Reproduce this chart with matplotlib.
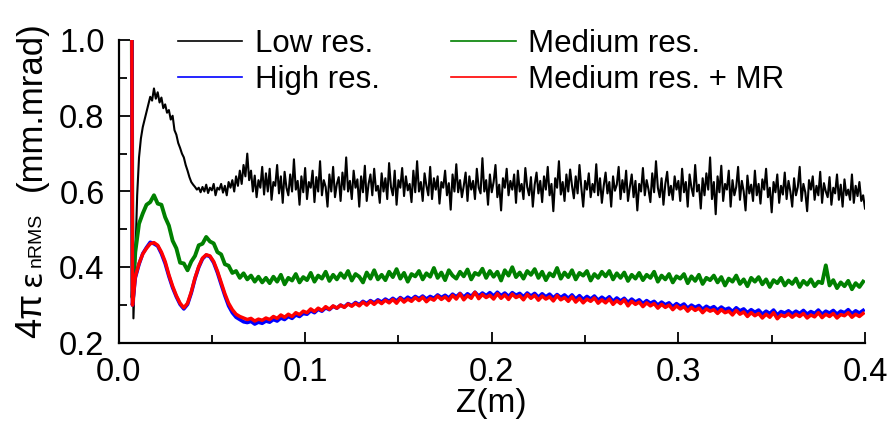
import numpy as np
import matplotlib
matplotlib.use("Agg")
import matplotlib.pyplot as plt
from matplotlib.lines import Line2D
from matplotlib.ticker import MultipleLocator, FormatStrFormatter

# ---------------- data ----------------
# Low resolution: first sample at Z=0.007, then every 0.001 m from Z=0.008
low_z_first = 0.007
low_z_start = 0.008
low_z_step = 0.001
low_res = [
    1.3,
    0.265, 0.42, 0.59, 0.69, 0.74, 0.77, 0.79, 0.81, 0.83, 0.85,
    0.84, 0.872, 0.845, 0.862, 0.835, 0.848, 0.82, 0.83, 0.808, 0.815,
    0.79, 0.80, 0.762, 0.75, 0.728, 0.715, 0.70, 0.69, 0.67, 0.655,
    0.638, 0.625, 0.618, 0.612, 0.605, 0.61, 0.598, 0.612, 0.60, 0.618,
    0.596, 0.61, 0.603, 0.62, 0.59, 0.61, 0.605, 0.62, 0.597, 0.615,
    0.59, 0.625, 0.61, 0.63, 0.60, 0.64, 0.615, 0.655, 0.62, 0.67,
    0.64, 0.70, 0.63,
    0.655, 0.60, 0.642, 0.585, 0.63, 0.61, 0.665, 0.592, 0.648, 0.60,
    0.66, 0.578, 0.625, 0.615, 0.67, 0.595, 0.64, 0.57, 0.652, 0.61,
    0.59, 0.645, 0.60, 0.685, 0.605, 0.628, 0.565, 0.64, 0.598, 0.662,
    0.58, 0.625, 0.61, 0.655, 0.572, 0.638, 0.60, 0.68, 0.59, 0.63,
    0.612, 0.56, 0.645, 0.60, 0.665, 0.585, 0.62, 0.638, 0.575, 0.65,
    0.605, 0.69, 0.60, 0.628, 0.58, 0.655, 0.61, 0.632, 0.56, 0.64,
    0.598, 0.668, 0.575, 0.62, 0.645, 0.59, 0.66, 0.602, 0.615, 0.57,
    0.648, 0.60, 0.635, 0.58, 0.675, 0.612, 0.59, 0.655, 0.565, 0.63,
    0.61, 0.662, 0.588, 0.64, 0.603, 0.62, 0.572, 0.655, 0.598, 0.68,
    0.60, 0.625, 0.575, 0.648, 0.615, 0.59, 0.665, 0.58, 0.635, 0.605,
    0.64, 0.568, 0.625, 0.61, 0.655, 0.59, 0.622, 0.552, 0.645, 0.60,
    0.672, 0.598, 0.63, 0.585, 0.615, 0.65, 0.575, 0.64, 0.605, 0.628,
    0.58, 0.66, 0.61, 0.595, 0.688, 0.60, 0.63, 0.565, 0.645, 0.598,
    0.625, 0.67, 0.585, 0.618, 0.55, 0.635, 0.61, 0.66, 0.59, 0.628,
    0.605, 0.645, 0.57, 0.655, 0.60, 0.62, 0.58, 0.662, 0.612, 0.59,
    0.638, 0.56, 0.618, 0.65, 0.595, 0.628, 0.572, 0.64, 0.605, 0.665,
    0.59, 0.62, 0.548, 0.635, 0.61, 0.68, 0.592, 0.625, 0.575, 0.645,
    0.60, 0.658, 0.615, 0.582, 0.64, 0.595, 0.67, 0.61, 0.56, 0.628,
    0.605, 0.648, 0.585, 0.62, 0.598, 0.672, 0.59, 0.635, 0.57, 0.615,
    0.65, 0.595, 0.625, 0.56, 0.64, 0.602, 0.618, 0.665, 0.58, 0.63,
    0.598, 0.655, 0.575, 0.612, 0.645, 0.585, 0.628, 0.55, 0.62, 0.60,
    0.662, 0.59, 0.63, 0.605, 0.572, 0.648, 0.598, 0.68, 0.61, 0.585,
    0.635, 0.565, 0.62, 0.652, 0.59, 0.615, 0.578, 0.64, 0.605, 0.628,
    0.575, 0.66, 0.598, 0.625, 0.56, 0.645, 0.61, 0.588, 0.67, 0.60,
    0.618, 0.555, 0.635, 0.59, 0.648, 0.605, 0.69, 0.58, 0.625, 0.54,
    0.64, 0.598, 0.668, 0.575, 0.62, 0.605, 0.655, 0.56, 0.63, 0.59,
    0.612, 0.665, 0.578, 0.628, 0.60, 0.55, 0.642, 0.595, 0.618, 0.575,
    0.655, 0.59, 0.62, 0.568, 0.632, 0.605, 0.66, 0.585, 0.61, 0.545,
    0.625, 0.598, 0.645, 0.57, 0.615, 0.592, 0.65, 0.58, 0.628, 0.60,
    0.56, 0.635, 0.59, 0.612, 0.665, 0.575, 0.62, 0.598, 0.548, 0.63,
    0.605, 0.64, 0.578, 0.615, 0.59, 0.652, 0.57, 0.622, 0.60, 0.585,
    0.638, 0.565, 0.61, 0.595, 0.645, 0.578, 0.618, 0.56, 0.632, 0.59,
    0.605, 0.578, 0.645, 0.57, 0.615, 0.588, 0.625, 0.575, 0.59, 0.555,
]

# Other runs: samples at Z=0.007 and 0.0075, then every 0.002 m from Z=0.009
mid_z_head = [0.007, 0.0075]
mid_z_start = 0.009
mid_z_step = 0.002

medium_res = [
    1.3, 0.32,
    0.44, 0.515, 0.542, 0.565, 0.572, 0.59, 0.568, 0.565, 0.532, 0.51,
    0.47, 0.45, 0.412, 0.41, 0.392, 0.415, 0.43, 0.458, 0.462, 0.48,
    0.468, 0.463, 0.44, 0.434, 0.408, 0.404, 0.385, 0.39, 0.372, 0.384,
    0.368, 0.378, 0.362, 0.375, 0.36, 0.372,
    0.358, 0.375, 0.362, 0.38, 0.355, 0.372, 0.365, 0.382, 0.36, 0.374,
    0.366, 0.385, 0.362, 0.378, 0.37, 0.388, 0.364, 0.38, 0.368, 0.384,
    0.372, 0.39, 0.365, 0.382, 0.375, 0.36, 0.386, 0.37, 0.392, 0.368,
    0.38, 0.366, 0.388, 0.374, 0.395, 0.37, 0.385, 0.362, 0.382, 0.376,
    0.39, 0.368, 0.384, 0.375, 0.398, 0.372, 0.386, 0.366, 0.392, 0.378,
    0.37, 0.388, 0.376, 0.394, 0.368, 0.385, 0.38, 0.396, 0.372, 0.39,
    0.375, 0.388, 0.365, 0.392, 0.378, 0.40, 0.374, 0.386, 0.37, 0.39,
    0.38, 0.395, 0.372, 0.388, 0.366, 0.384, 0.376, 0.398, 0.37, 0.386,
    0.374, 0.392, 0.368, 0.385, 0.378, 0.39, 0.365, 0.382, 0.372, 0.388,
    0.376, 0.39, 0.368, 0.384, 0.372, 0.386, 0.364, 0.38, 0.37, 0.385,
    0.366, 0.38, 0.372, 0.388, 0.362, 0.378, 0.368, 0.382, 0.36, 0.376,
    0.37, 0.382, 0.358, 0.376, 0.364, 0.38, 0.356, 0.372, 0.366, 0.378,
    0.36, 0.374, 0.352, 0.37, 0.362, 0.378, 0.356, 0.368, 0.35, 0.372,
    0.362, 0.374, 0.355, 0.368, 0.348, 0.366, 0.358, 0.372, 0.352, 0.365,
    0.356, 0.37, 0.348, 0.364, 0.354, 0.368, 0.35, 0.362, 0.358, 0.405,
    0.352, 0.366, 0.345, 0.36, 0.35, 0.364, 0.342, 0.358, 0.348, 0.362,
]

high_res = [
    1.3, 0.30,
    0.372, 0.408, 0.436, 0.452, 0.466, 0.462, 0.456, 0.436, 0.41, 0.376,
    0.346, 0.322, 0.302, 0.29, 0.302, 0.332, 0.37, 0.40, 0.422, 0.432,
    0.428, 0.412, 0.386, 0.355, 0.325, 0.298, 0.28, 0.268, 0.262, 0.256,
    0.254, 0.257, 0.25, 0.255, 0.252, 0.258,
    0.255, 0.262, 0.258, 0.266, 0.262, 0.27, 0.265, 0.274, 0.27, 0.278,
    0.276, 0.285, 0.28, 0.289, 0.284, 0.293, 0.288, 0.297, 0.292, 0.30,
    0.295, 0.304, 0.299, 0.307, 0.301, 0.31, 0.304, 0.312, 0.306, 0.314,
    0.308, 0.316, 0.31, 0.318, 0.311, 0.32, 0.313, 0.321, 0.315, 0.323,
    0.317, 0.324, 0.316, 0.323, 0.318, 0.327, 0.32, 0.326, 0.319, 0.329,
    0.322, 0.331, 0.321, 0.33, 0.323, 0.334, 0.324, 0.332, 0.325, 0.333,
    0.324, 0.334, 0.325, 0.332, 0.323, 0.333, 0.326, 0.331, 0.322, 0.332,
    0.324, 0.331, 0.321, 0.33, 0.322, 0.329, 0.319, 0.328, 0.32, 0.327,
    0.318, 0.327, 0.316, 0.325, 0.315, 0.323, 0.316, 0.324, 0.313, 0.321,
    0.314, 0.322, 0.31, 0.319, 0.311, 0.318, 0.307, 0.316, 0.308, 0.314,
    0.304, 0.312, 0.305, 0.31, 0.30, 0.308, 0.301, 0.306, 0.296, 0.304,
    0.297, 0.303, 0.292, 0.30, 0.294, 0.299, 0.289, 0.297, 0.291, 0.296,
    0.287, 0.295, 0.288, 0.292, 0.283, 0.293, 0.285, 0.29, 0.28, 0.288,
    0.281, 0.287, 0.276, 0.284, 0.278, 0.287, 0.274, 0.283, 0.279, 0.285,
    0.277, 0.284, 0.278, 0.286, 0.276, 0.283, 0.278, 0.287, 0.276, 0.284,
    0.279, 0.286, 0.276, 0.284, 0.28, 0.288, 0.277, 0.285, 0.279, 0.286,
]

medium_res_mr = [
    1.3, 0.30,
    0.375, 0.41, 0.435, 0.45, 0.462, 0.465, 0.458, 0.44, 0.415, 0.38,
    0.35, 0.325, 0.305, 0.293, 0.305, 0.335, 0.372, 0.402, 0.424, 0.433,
    0.43, 0.415, 0.39, 0.36, 0.33, 0.305, 0.288, 0.276, 0.27, 0.266,
    0.262, 0.265, 0.258, 0.263, 0.26, 0.266,
    0.262, 0.27, 0.265, 0.274, 0.268, 0.276, 0.27, 0.28, 0.275, 0.284,
    0.28, 0.29, 0.283, 0.292, 0.286, 0.296, 0.289, 0.298, 0.292, 0.30,
    0.294, 0.303, 0.297, 0.305, 0.298, 0.308, 0.30, 0.31, 0.302, 0.311,
    0.304, 0.313, 0.306, 0.315, 0.305, 0.318, 0.308, 0.316, 0.31, 0.32,
    0.312, 0.321, 0.309, 0.318, 0.313, 0.324, 0.315, 0.322, 0.312, 0.326,
    0.316, 0.33, 0.314, 0.325, 0.318, 0.334, 0.317, 0.328, 0.32, 0.326,
    0.316, 0.33, 0.318, 0.327, 0.315, 0.329, 0.32, 0.325, 0.314, 0.328,
    0.318, 0.326, 0.313, 0.324, 0.316, 0.322, 0.311, 0.325, 0.314, 0.32,
    0.31, 0.322, 0.308, 0.318, 0.306, 0.316, 0.31, 0.319, 0.305, 0.314,
    0.306, 0.316, 0.302, 0.312, 0.304, 0.314, 0.298, 0.31, 0.302, 0.308,
    0.296, 0.306, 0.298, 0.304, 0.292, 0.302, 0.294, 0.30, 0.288, 0.298,
    0.29, 0.296, 0.284, 0.294, 0.286, 0.292, 0.28, 0.29, 0.284, 0.288,
    0.278, 0.288, 0.28, 0.284, 0.274, 0.286, 0.276, 0.282, 0.27, 0.28,
    0.272, 0.278, 0.266, 0.276, 0.268, 0.28, 0.264, 0.274, 0.27, 0.277,
    0.268, 0.276, 0.27, 0.278, 0.266, 0.274, 0.269, 0.28, 0.267, 0.276,
    0.27, 0.278, 0.266, 0.275, 0.272, 0.28, 0.268, 0.276, 0.27, 0.278,
]

series_labels = ["Low res.", "High res.", "Medium res.", "Medium res. + MR"]
series_colors = ["#000000", "#0000ff", "#008000", "#ff0000"]
x_ticks = [0.0, 0.1, 0.2, 0.3, 0.4]
y_ticks = [0.2, 0.4, 0.6, 0.8, 1.0]

# ---------------- grids ----------------
low_z = np.concatenate([[low_z_first],
                        low_z_start + low_z_step * np.arange(len(low_res) - 1)])


def mid_grid(vals):
    return np.concatenate([mid_z_head,
                           mid_z_start + mid_z_step * np.arange(len(vals) - len(mid_z_head))])


# ---------------- figure ----------------
plt.rcParams["font.family"] = ["Liberation Sans", "DejaVu Sans"]
fig = plt.figure(figsize=(8.92, 4.23), dpi=100)
ax = fig.add_axes([118.5 / 892, 1 - 343 / 423, (865 - 118.5) / 892, (343 - 40) / 423])

ax.plot(low_z, low_res, color=series_colors[0], lw=1.5)
ax.plot(mid_grid(medium_res), medium_res, color=series_colors[2], lw=2.8)
ax.plot(mid_grid(high_res), high_res, color=series_colors[1], lw=2.6)
ax.plot(mid_grid(medium_res_mr), medium_res_mr, color=series_colors[3], lw=2.5)

ax.set_xlim(0, 0.4)
ax.set_ylim(0.2, 1.0)
ax.set_xticks(x_ticks)
ax.set_yticks(y_ticks)
ax.xaxis.set_minor_locator(MultipleLocator(0.05))
ax.yaxis.set_minor_locator(MultipleLocator(0.1))
ax.xaxis.set_major_formatter(FormatStrFormatter("%.1f"))
ax.yaxis.set_major_formatter(FormatStrFormatter("%.1f"))
for s in ["top", "right"]:
    ax.spines[s].set_visible(False)
for s in ["left", "bottom"]:
    ax.spines[s].set_linewidth(1.6)
ax.tick_params(which="major", direction="in", length=8, width=1.3, labelsize=23.5)
ax.tick_params(which="minor", direction="in", length=6, width=1.3)
ax.tick_params(axis="y", which="major", pad=10)
ax.tick_params(axis="x", which="major", pad=10)

ax.set_xlabel("Z(m)", fontsize=24, labelpad=0)

# y label built from pieces (different sizes), reading bottom to top
base_x = 41 / 892
pieces = [("4\u03c0", 26, 338, "Liberation Sans"),
          ("\u03b5", 22, 286, "DejaVu Sans"),
          ("nRMS", 14, 267, "Liberation Sans"),
          ("(mm.mrad)", 25, 191, "Liberation Sans")]
for txt, fs, ypx, fam in pieces:
    fig.text(base_x, 1 - ypx / 423, txt, rotation=90, rotation_mode="anchor",
             ha="left", va="baseline", fontsize=fs, family=fam)

handles = [Line2D([], [], color=c, lw=1.2) for c in series_colors]
ax.legend(handles, series_labels, ncol=2, loc="upper left",
          bbox_to_anchor=(178 / 892, 1 - 29 / 423), bbox_transform=fig.transFigure,
          frameon=False, fontsize=22.5, handlelength=2.05, handletextpad=0.4,
          columnspacing=2.3, labelspacing=0.2, borderpad=0, borderaxespad=0)

fig.savefig("out.png", dpi=100)
